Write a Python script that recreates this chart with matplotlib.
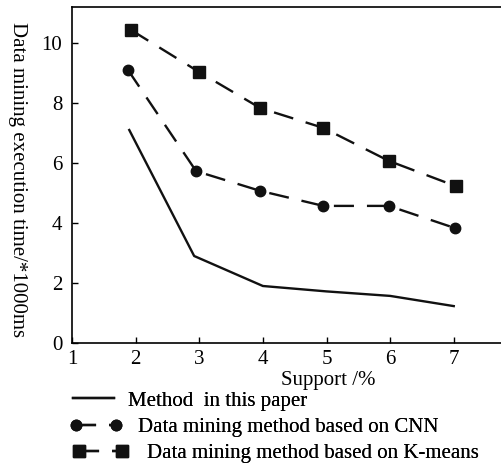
import matplotlib
matplotlib.use("Agg")
import matplotlib.pyplot as plt
from matplotlib.lines import Line2D

plt.rcParams['font.family'] = ['Liberation Serif', 'DejaVu Serif']

support_ours = [1.9, 2.92, 4.0, 5.0, 6.0, 7.0]
time_ours = [7.1, 2.9, 1.9, 1.72, 1.57, 1.23]
support_cnn = [1.88, 2.95, 3.96, 4.95, 5.98, 7.02]
time_cnn = [9.1, 5.73, 5.07, 4.57, 4.57, 3.83]
support_km = [1.93, 3.0, 3.96, 4.95, 5.98, 7.03]
time_km = [10.43, 9.03, 7.83, 7.17, 6.07, 5.23]
xticks = [1, 2, 3, 4, 5, 6, 7]
yticks = [0, 2, 4, 6, 8, 10]
labels = ["Method  in this paper", "Data mining method based on CNN",
          "Data mining method based on K-means"]

FS = 15
LW = 1.7
DASH = (0, (8.5, 5.5))
MS_C = 7.5
MS_S = 8.5
fig = plt.figure(figsize=(5.01, 4.65), dpi=100)
ax = fig.add_axes([72/501, 1-343/465, 1.02-72/501, (343-7)/465])
ax.plot(support_ours, time_ours, color='#111111', lw=LW)
ax.plot(support_cnn, time_cnn, color='#111111', lw=LW, ls=DASH,
        marker='o', ms=MS_C)
ax.plot(support_km, time_km, color='#111111', lw=LW, ls=DASH,
        marker='s', ms=MS_S)
ax.set_xlim(1, 7.9)
ax.set_ylim(0, 11.2)
ax.set_xticks(xticks)
ax.set_yticks(yticks)
ax.tick_params(direction='in', labelsize=FS, length=4, width=1)
ax.tick_params(axis='y', pad=7)
ax.tick_params(axis='x', pad=5)
ax.spines['right'].set_visible(False)
for s in ax.spines.values():
    s.set_linewidth(1.2)
fig.text(17/501, 1-180/465, "Data mining execution time/*1000ms", fontsize=FS,
         rotation=270, ha='center', va='center')
fig.text(328/501, 1-380/465, "Support /%", fontsize=FS, ha='center', va='center')

handles = [
    Line2D([], [], color='#111111', lw=LW),
    Line2D([], [], color='#111111', lw=LW, ls=DASH, marker='o', ms=MS_C),
    Line2D([], [], color='#111111', lw=LW, ls=DASH, marker='s', ms=MS_S),
]
px20 = FS * 100 / 72.0
pos = [(67/501, 1-401/465), (70/501, 1-427/465), (73/501, 1-453/465)]
hlens = [53 / px20, 52 / px20, 55 / px20]
pads = [8 / px20, 16 / px20, 19 / px20]
for h, lab, (px, py), hl, pd in zip(handles, labels, pos, hlens, pads):
    leg = fig.legend([h], [lab], loc='center left', bbox_to_anchor=(px, py),
                     frameon=False, fontsize=FS, numpoints=2,
                     handlelength=hl, handletextpad=pd, borderpad=0,
                     borderaxespad=0)
    fig.add_artist(leg)

fig.savefig("out.png", dpi=100)
